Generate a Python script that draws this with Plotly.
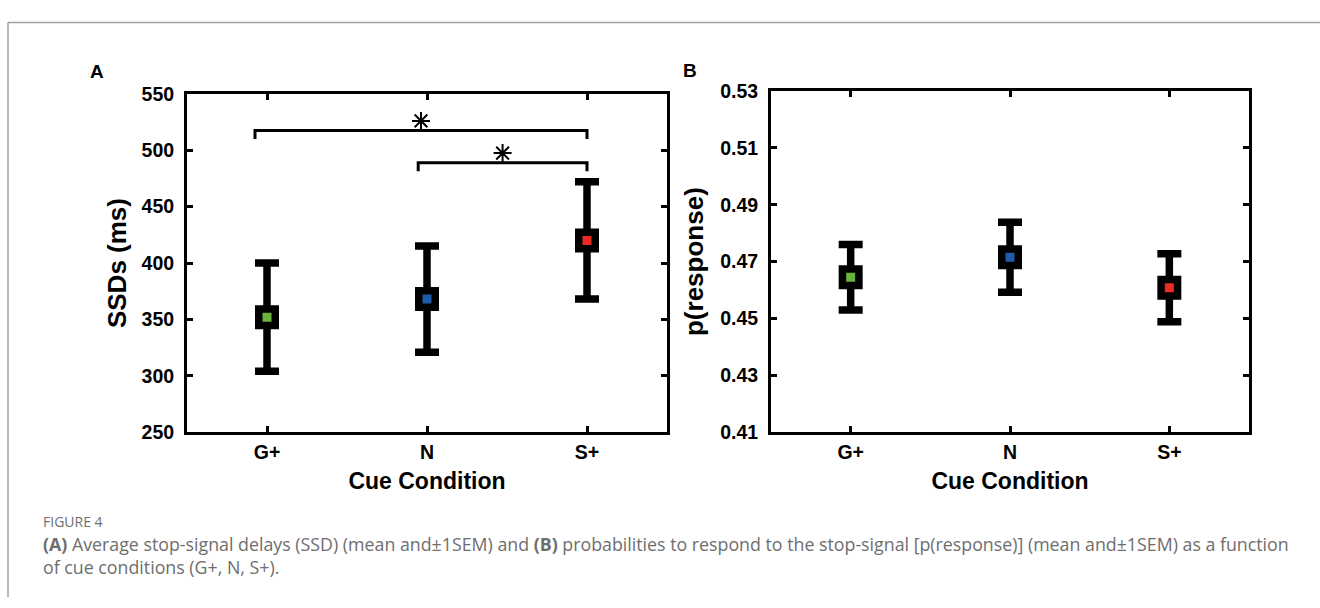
"""Figure 4: stop-signal delays and p(response) by cue condition."""

import plotly.graph_objects as go

W, H = 1320, 608

CUES = ["G+", "N", "S+"]
CUE_X = [1, 2, 3]
CUE_COLORS = ["#6CB33E", "#1E5BAA", "#EC2B25"]

SSD_MEAN = [352, 368, 420]
SSD_SEM = [48, 47, 52]
SSD_TICKS = [250, 300, 350, 400, 450, 500, 550]

PRESP_MEAN = [0.4645, 0.4715, 0.4608]
PRESP_SEM = [0.0115, 0.0123, 0.0120]
PRESP_TICKS = [0.41, 0.43, 0.45, 0.47, 0.49, 0.51, 0.53]

# significance brackets on panel A: (left x, right x, height)
SIG_BRACKETS = [(0.925, 3.0, 517.5), (1.945, 3.0, 489.0)]

BOLD = dict(family="Liberation Sans, Arial, sans-serif", color="black", weight="bold")


def px_x(x):
    return x / W


def px_y(y):
    return 1 - y / H


fig = go.Figure()

for xref, yref, means, sems in (("x", "y", SSD_MEAN, SSD_SEM), ("x2", "y2", PRESP_MEAN, PRESP_SEM)):
    fig.add_trace(
        go.Scatter(
            x=CUE_X,
            y=means,
            xaxis=xref,
            yaxis=yref,
            mode="markers",
            marker=dict(symbol="square", size=16.5, color=CUE_COLORS, line=dict(color="black", width=7.5)),
            error_y=dict(type="data", array=sems, color="black", thickness=7.5, width=12),
            showlegend=False,
            hoverinfo="skip",
        )
    )

for x0, x1, h in SIG_BRACKETS:
    drop = 7.5
    fig.add_trace(
        go.Scatter(
            x=[x0, x0, x1, x1],
            y=[h - drop, h, h, h - drop],
            mode="lines",
            line=dict(color="black", width=3),
            showlegend=False,
            hoverinfo="skip",
        )
    )
    fig.add_trace(
        go.Scatter(
            x=[(x0 + x1) / 2],
            y=[h + 8.5],
            mode="markers",
            marker=dict(symbol="asterisk-open", size=15, color="black", line=dict(color="black", width=2)),
            showlegend=False,
            hoverinfo="skip",
        )
    )

axis_common = dict(
    showline=True,
    linecolor="black",
    linewidth=3,
    mirror="ticks",
    ticks="inside",
    ticklen=6,
    tickwidth=3,
    tickcolor="black",
    showgrid=False,
    zeroline=False,
    tickfont=dict(size=19.5, **BOLD),
)

fig.update_layout(
    width=W,
    height=H,
    margin=dict(l=0, r=0, t=0, b=0),
    paper_bgcolor="white",
    plot_bgcolor="white",
    xaxis=dict(
        domain=[px_x(187), px_x(667)],
        range=[0.5, 3.5],
        tickvals=CUE_X,
        ticktext=CUES,
        anchor="y",
        title=dict(text="Cue Condition", font=dict(size=23, **BOLD), standoff=12),
        **axis_common,
    ),
    yaxis=dict(
        domain=[px_y(437), px_y(86)],
        range=[250, 550],
        tickvals=SSD_TICKS,
        anchor="x",
        ticklabelstandoff=6,
        title=dict(text="SSDs (ms)", font=dict(size=26, **BOLD), standoff=8),
        **axis_common,
    ),
    xaxis2=dict(
        domain=[px_x(771), px_x(1249)],
        range=[0.5, 3.5],
        tickvals=CUE_X,
        ticktext=CUES,
        anchor="y2",
        title=dict(text="Cue Condition", font=dict(size=23, **BOLD), standoff=12),
        **axis_common,
    ),
    yaxis2=dict(
        domain=[px_y(437), px_y(83)],
        range=[0.41, 0.53],
        tickvals=PRESP_TICKS,
        tickformat=".2f",
        anchor="x2",
        ticklabelstandoff=6,
        title=dict(text="p(response)", font=dict(size=26, **BOLD), standoff=10),
        **axis_common,
    ),
)

# panel letters
for letter, x, y in (("A", 97, 63), ("B", 690, 62)):
    fig.add_annotation(
        text=letter, xref="paper", yref="paper", x=px_x(x), y=px_y(y),
        xanchor="center", yanchor="middle",
        showarrow=False, font=dict(size=19, **BOLD),
    )

# caption
CAPTION_FONT = dict(family="Open Sans, Lato, sans-serif", color="#6E6E6E")
fig.add_annotation(
    text="FIGURE 4", xref="paper", yref="paper", x=px_x(41), y=px_y(530),
    xanchor="left", yanchor="middle", showarrow=False, font=dict(size=14, **CAPTION_FONT),
)
fig.add_annotation(
    text="<b>(A)</b> Average stop-signal delays (SSD) (mean and±1SEM) and <b>(B)</b> probabilities "
    "to respond to the stop-signal [p(response)] (mean and±1SEM) as a function",
    xref="paper", yref="paper", x=px_x(41), y=px_y(553),
    xanchor="left", yanchor="middle", showarrow=False, font=dict(size=17.8, **CAPTION_FONT),
)
fig.add_annotation(
    text="of cue conditions (G+, N, S+).",
    xref="paper", yref="paper", x=px_x(41), y=px_y(577),
    xanchor="left", yanchor="middle", showarrow=False, font=dict(size=17.8, **CAPTION_FONT),
)

# figure frame (top and left edges)
fig.add_shape(type="line", xref="paper", yref="paper", x0=px_x(8), x1=1.0, y0=px_y(12), y1=px_y(12),
              line=dict(color="#A0A0A0", width=1.5))
fig.add_shape(type="line", xref="paper", yref="paper", x0=px_x(8), x1=px_x(8), y0=px_y(12), y1=0,
              line=dict(color="#A0A0A0", width=1.5))

fig.write_html(
    "out.html",
    config={"displayModeBar": False},
    post_script="document.body.style.margin = '0px';",
)
